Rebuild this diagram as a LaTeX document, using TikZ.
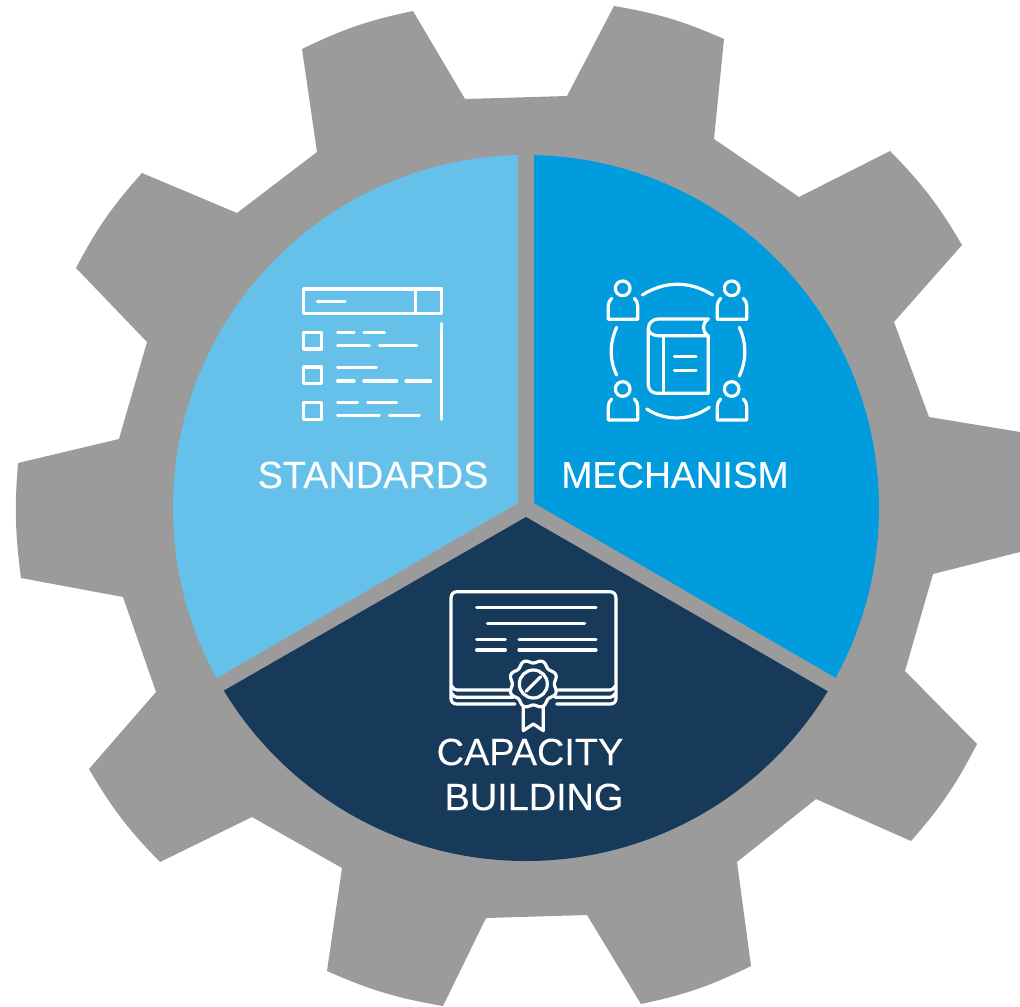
\documentclass[tikz,border=0pt]{standalone}
\usepackage{fontspec}
\setmainfont[FakeBold=0.15]{Liberation Sans}
\definecolor{gearg}{HTML}{9B9B9B}
\definecolor{lblue}{HTML}{65C1E9}
\definecolor{mblue}{HTML}{009CDE}
\definecolor{navy}{HTML}{183A5A}
\tikzset{
  icon/.style={draw=white,line width=2.4pt,line cap=round,line join=round},
  lbl/.style={text=white,font=\fontsize{28.4}{33}\selectfont,inner sep=0pt,align=center},
  arcb/.style={bend left=7}
}
\begin{document}
\begin{tikzpicture}[x=0.75pt,y=-0.75pt]
\useasboundingbox (0,0) rectangle (1020,1006);
% gear
\fill[gearg] (302,49) to[arcb] (413,11) -- (465,99) -- (567,96) -- (614,6) to[arcb] (724,39)
 -- (714,139) -- (799,197) -- (890,151) to[arcb] (962,245) -- (894,322) -- (929,417) -- (1020,432)
 to[bend left=5] (1020,552) -- (933,574) -- (905,671) -- (977,744) to[arcb] (911,841) -- (816,799)
 -- (737,862) -- (751,966) to[arcb] (641,1004) -- (587,915) -- (486,918) -- (443,1006) to[arcb] (327,971)
 -- (342,868) -- (252,817) -- (160,862) to[arcb] (89,769) -- (156,692) -- (123,597) -- (21,578)
 to[bend left=6] (18,463) -- (119,439) -- (147,342) -- (76,268) to[arcb] (142,173) -- (237,213) -- (317,152) -- cycle;
% sectors
\begin{scope}
 \clip (518,503) -- (518,100) -- (100,100) -- (100,720) -- (146,720) -- (217,678) -- cycle;
 \fill[lblue] (526,508) circle[radius=353];
\end{scope}
\begin{scope}
 \clip (534,503) -- (534,100) -- (950,100) -- (950,720) -- (906,720) -- (836,678) -- cycle;
 \fill[mblue] (526,508) circle[radius=353];
\end{scope}
\begin{scope}
 \clip (526,517) -- (900,733) -- (900,900) -- (150,900) -- (150,733) -- cycle;
 \fill[navy] (526,508) circle[radius=353];
\end{scope}
% labels
\node[lbl] (std) at (373,475) {STANDARDS};
\node[lbl,font=\fontsize{27.9}{33}\selectfont] (mech) at (675,475) {MECHANISM};
\node[lbl] (cap1) at (530,752) {CAPACITY};
\node[lbl] (cap2) at (534,797) {BUILDING};
% standards icon
\begin{scope}[shift={(280,270)},x=0.25pt,y=-0.25pt,icon]
 \draw (71,57) rectangle (485,130);
 \draw (407,57) -- (407,130);
 \draw (112,95) -- (195,95);
 \draw (484,160) -- (484,448);
 \foreach \yy in {187,291,398} \draw (71,\yy) rectangle (125,\yy+50);
 \foreach \a/\b/\yy in {173/222/188,252/314/188,173/268/227,298/410/227,173/289/292,173/222/333,252/350/333,378/452/333,173/233/398,263/350/398,173/298/437,328/418/437}
   \draw (\a,\yy) -- (\b,\yy);
\end{scope}
% mechanism icon
\begin{scope}[shift={(590,270)},x=0.25pt,y=-0.25pt,icon]
 \foreach \hx/\hy in {98/55,425/55,98/357,425/357}{
  \draw (\hx,\hy) circle[radius=22];
  \draw (\hx-33,\hy+30) .. controls (\hx-40,\hy+38) and (\hx-43,\hy+42) .. (\hx-43,\hy+52) -- (\hx-43,\hy+93) -- (\hx+45,\hy+93) -- (\hx+45,\hy+52) .. controls (\hx+45,\hy+42) and (\hx+42,\hy+38) .. (\hx+35,\hy+30);
 }
 \draw (157,75) .. controls (225,32) and (300,32) .. (368,75);
 \draw (170,417) .. controls (230,455) and (300,452) .. (358,412);
 \draw (80,172) .. controls (58,220) and (58,270) .. (80,315);
 \draw (448,172) .. controls (470,220) and (470,270) .. (448,318);
 \draw (355,147) -- (205,147) .. controls (188,147) and (175,160) .. (175,175) -- (175,345) .. controls (175,360) and (188,370) .. (202,370) -- (355,370) -- (355,197) -- (205,197) .. controls (188,197) and (175,188) .. (175,175);
 \draw (355,147) .. controls (335,160) and (335,185) .. (355,197);
 \draw (220,197) -- (220,370);
 \draw (253,259) -- (318,259);
 \draw (253,302) -- (318,302);
\end{scope}
% capacity icon
\begin{scope}[shift={(435,580)},x=0.25pt,y=-0.25pt,icon]
 \draw (48,320) -- (48,55) .. controls (48,42) and (55,35) .. (68,35) -- (523,35) .. controls (536,35) and (543,42) .. (543,55) -- (543,355) .. controls (543,366) and (536,372) .. (525,372) -- (365,372);
 \draw (48,320) -- (48,355) .. controls (48,366) and (55,372) .. (66,372) -- (240,372);
 \draw (50,318) .. controls (54,326) and (60,330) .. (66,330) -- (225,330);
 \draw (541,318) .. controls (537,326) and (530,330) .. (525,330) -- (368,330);
 \draw (50,340) .. controls (54,348) and (60,352) .. (66,352) -- (235,352);
 \draw (541,340) .. controls (537,348) and (530,352) .. (525,352) -- (360,352);
 \foreach \a/\b/\yy in {125/483/83,157/449/130,125/211/179,252/483/179,125/211/210,252/483/210}
   \draw (\a,\yy) -- (\b,\yy);
 \fill[navy,draw=white] plot[domain=0:360,samples=145,smooth] ({295+(68+5*cos(8*\x))*cos(\x+22.5)},{312+(68+5*cos(8*\x))*sin(\x+22.5)}) -- cycle;
 \draw (295,312) circle[radius=42];
 \draw (273,334) -- (317,290);
 \draw (265,382) -- (265,452) -- (295,432) -- (325,452) -- (325,382);
\end{scope}
\end{tikzpicture}
\end{document}
